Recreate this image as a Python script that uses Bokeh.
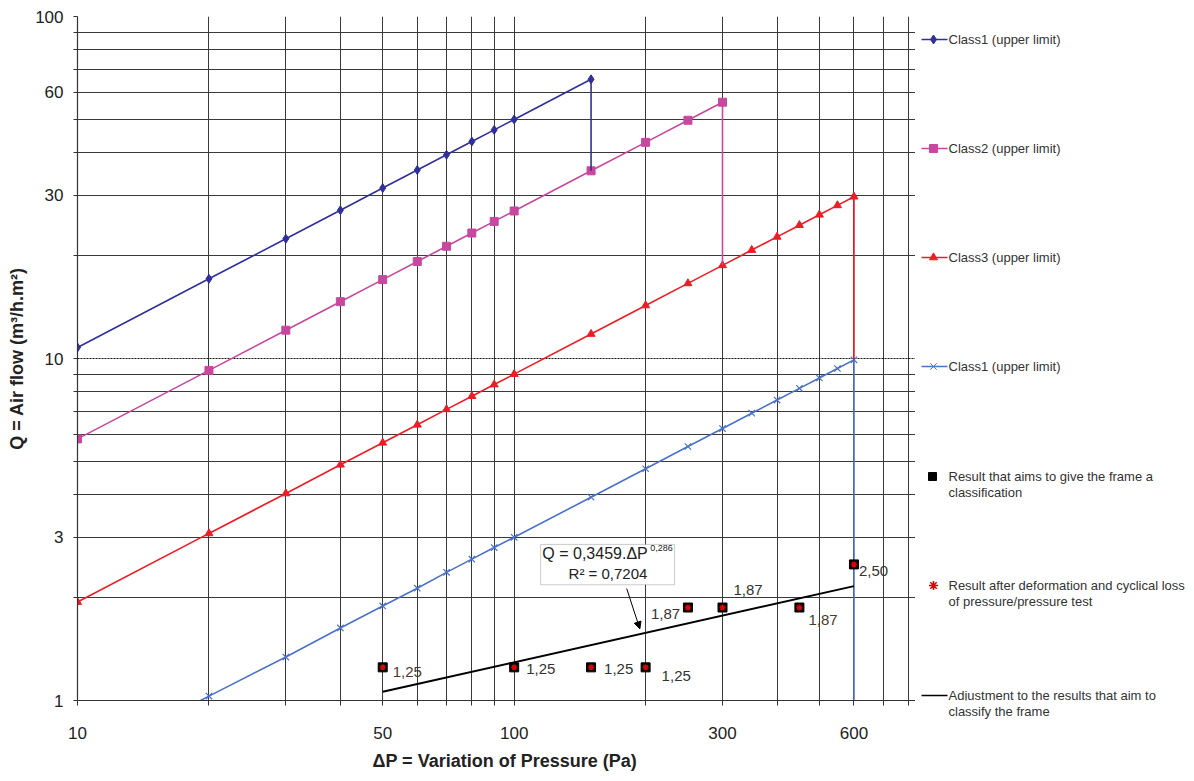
from bokeh.plotting import figure
from bokeh.models import (Range1d, FixedTicker, Grid, ColumnDataSource, Label,
                          BoxAnnotation, Arrow, NormalHead, Title)
from bokeh.layouts import row
from bokeh.embed import file_html
from bokeh.resources import INLINE
from bokeh.core.properties import value

FONT = "Liberation Sans"

# ---------------- data ----------------
class1_dp = [10, 20, 30, 40, 50, 60, 70, 80, 90, 100, 150, 150]
class1_q = [10.77, 17.10, 22.40, 27.14, 31.50, 35.57, 39.42, 43.09, 46.61, 50.00, 65.52, 35.38]

class2_dp = [10, 20, 30, 40, 50, 60, 70, 80, 90, 100, 150, 200, 250, 300, 300]
class2_q = [5.82, 9.23, 12.10, 14.66, 17.01, 19.21, 21.29, 23.27, 25.17, 27.00, 35.38, 42.86, 49.73, 56.16, 18.72]

class3_dp = [10, 20, 30, 40, 50, 60, 70, 80, 90, 100, 150, 200, 250, 300, 350, 400, 450, 500, 550, 600, 600]
class3_q = [1.94, 3.08, 4.03, 4.89, 5.67, 6.40, 7.10, 7.76, 8.39, 9.00, 11.79, 14.29, 16.58, 18.72, 20.75,
            22.68, 24.53, 26.32, 28.04, 29.72, 9.91]

class4_dp = [10, 20, 30, 40, 50, 60, 70, 80, 90, 100, 150, 200, 250, 300, 350, 400, 450, 500, 550, 600, 600]
class4_q = [0.65, 1.03, 1.34, 1.63, 1.89, 2.13, 2.37, 2.59, 2.80, 3.00, 3.93, 4.76, 5.53, 6.24, 6.92,
            7.56, 8.18, 8.77, 9.35, 9.91, 1.00]

result_dp = [50, 100, 150, 200, 250, 300, 450, 600]
result_q = [1.25, 1.25, 1.25, 1.25, 1.87, 1.87, 1.87, 2.50]
result_labels = ["1,25", "1,25", "1,25", "1,25", "1,87", "1,87", "1,87", "2,50"]

fit_dp = [50, 600]
fit_q = [1.06, 2.16]

x_ticks = [10, 20, 30, 40, 50, 60, 70, 80, 90, 100, 200, 300, 400, 500, 600, 700, 800]
x_tick_labels = {10: "10", 50: "50", 100: "100", 300: "300", 600: "600"}
y_ticks = [1, 2, 3, 4, 5, 6, 7, 8, 9, 10, 20, 30, 40, 50, 60, 70, 80, 90, 100]
y_tick_labels = {1: "1", 3: "3", 10: "10", 30: "30", 60: "60", 100: "100"}
y_major_dotted = [10, 100]

legend_names = ["Class1 (upper limit)", "Class2 (upper limit)", "Class3 (upper limit)",
                "Class1 (upper limit)"]
legend_results = [["Result that aims to give the frame a", "classification"],
                  ["Result after deformation and cyclical loss", "of pressure/pressure test"],
                  ["Adjustment to the results that aim to", "classify the frame"]]

eq_text = "Q = 0,3459.ΔP"
eq_exp = "0,286"
r2_text = "R² = 0,7204"

# ---------------- styles ----------------
NAVY = "#30309a"
MAGENTA = "#c8489f"
RED = "#ee1c25"
BLUE = "#4a72c8"
GRID = "#3a3a3a"
TXT = "#222222"

# ---------------- main plot ----------------
p = figure(width=915, height=780, x_axis_type="log", y_axis_type="log",
           x_range=Range1d(10, 830), y_range=Range1d(1, 100),
           output_backend="svg", toolbar_location=None,
           min_border_left=77, min_border_right=0, min_border_top=16, min_border_bottom=80)
p.outline_line_color = None

# grids
p.xgrid.ticker = FixedTicker(ticks=[t for t in x_ticks if t != 10])
p.xgrid.grid_line_color = GRID
p.xgrid.grid_line_width = 1
p.ygrid.ticker = FixedTicker(ticks=[t for t in y_ticks if t not in y_major_dotted and t != 1])
p.ygrid.grid_line_color = GRID
p.ygrid.grid_line_width = 1
p.add_layout(Grid(dimension=1, ticker=FixedTicker(ticks=y_major_dotted),
                  grid_line_color="#111111", grid_line_dash="2 1", grid_line_width=1.2))

# axes
xa = p.xaxis[0]
xa.ticker = FixedTicker(ticks=x_ticks)
xa.major_label_overrides = {t: x_tick_labels.get(t, "") for t in x_ticks}
ya = p.yaxis[0]
ya.ticker = FixedTicker(ticks=y_ticks)
ya.major_label_overrides = {t: y_tick_labels.get(t, "") for t in y_ticks}
for ax in (xa, ya):
    ax.axis_line_color = "#333333"
    ax.axis_line_width = 1.2
    ax.major_tick_line_color = "#333333"
    ax.major_tick_in = 0
    ax.minor_tick_line_color = None
    ax.major_label_text_font = FONT
    ax.major_label_text_font_size = "17px"
    ax.major_label_text_color = TXT
xa.major_tick_out = 5
xa.major_label_standoff = 21
ya.major_tick_out = 4
ya.major_label_standoff = 10
ya.axis_label = "Q = Air flow (m³/h.m²)"
ya.axis_label_text_font = FONT
ya.axis_label_text_font_size = "18px"
ya.axis_label_text_font_style = "bold"
ya.axis_label_text_color = TXT
ya.axis_label_standoff = 5

p.add_layout(Title(text="ΔP = Variation of Pressure (Pa)", align="left", offset=295,
                   text_font=FONT, text_font_size="18px", text_font_style="bold",
                   text_color=TXT, standoff=15), "below")

# series
p.line(class4_dp, class4_q, line_color=BLUE, line_width=1.6)
p.scatter(class4_dp[:-1], class4_q[:-1], marker="x", size=9, line_color=BLUE, line_width=1.2)
p.line(class3_dp, class3_q, line_color=RED, line_width=1.6)
p.scatter(class3_dp[:-1], class3_q[:-1], marker="triangle", size=8, fill_color=RED, line_color=RED)
p.line(class2_dp, class2_q, line_color=MAGENTA, line_width=1.6)
p.scatter(class2_dp[:-1], class2_q[:-1], marker="square", size=8, fill_color=MAGENTA, line_color=MAGENTA)
p.line(class1_dp, class1_q, line_color=NAVY, line_width=1.6)
p.scatter(class1_dp[:-1], class1_q[:-1], marker="diamond", size=9, fill_color=NAVY, line_color=NAVY)

# fit line and results
p.line(fit_dp, fit_q, line_color="black", line_width=2)
p.scatter(result_dp, result_q, marker="square", size=9, fill_color="black", line_color="black")
p.scatter(result_dp, result_q, marker="asterisk", size=6, line_color="#e00000", line_width=1.5)

lab_src = ColumnDataSource(dict(
    x=result_dp, y=result_q, t=result_labels,
    dx=[10, 12, 13, 16, -37, 11, 9, 5],
    dy=[5, 2, 2, 9, 6, -18, 12, 7],
    c=["#4a3b2c", "#333333", "#333333", "#333333", "#333333", "#333333", "#4a3b2c", "#333333"]))
p.text(x="x", y="y", text="t", x_offset="dx", y_offset="dy", text_color="c", source=lab_src,
       text_font=value(FONT), text_font_size="15px", text_baseline="middle", text_align="left")

# equation box + arrow
p.add_layout(BoxAnnotation(left=115, right=233, bottom=2.18, top=2.86, fill_color="white",
                           fill_alpha=1, line_color="#555555", line_width=1))
p.add_layout(Label(x=116, y=2.69, text=eq_text, text_font=FONT, text_font_size="16px",
                   text_baseline="middle", text_align="left", text_color=TXT))
p.add_layout(Label(x=205, y=2.80, text=eq_exp, text_font=FONT, text_font_size="9px",
                   text_baseline="middle", text_align="left", text_color=TXT))
p.add_layout(Label(x=164, y=2.35, text=r2_text, text_font=FONT, text_font_size="15px",
                   text_baseline="middle", text_align="center", text_color=TXT))
p.add_layout(Arrow(end=NormalHead(size=7, fill_color="black", line_color="black"),
                   x_start=181, y_start=2.125, x_end=194, y_end=1.62,
                   line_color="black", line_width=1))

# ---------------- legend panel (frame aligned with the main frame, y in page px) ----------------
lg = figure(width=271, height=780, x_range=Range1d(0, 271), y_range=Range1d(700, 16),
            x_axis_location=None, y_axis_location=None, output_backend="svg",
            toolbar_location=None, min_border_left=0, min_border_right=0,
            min_border_top=16, min_border_bottom=80)
lg.outline_line_color = None
lg.grid.visible = False

row_y = [39, 148, 257, 366]
lg.segment(x0=[6] * 4, y0=row_y, x1=[32] * 4, y1=row_y, line_color=[NAVY, MAGENTA, RED, BLUE],
           line_width=1.6)
lg.scatter(x=[18] * 4, y=row_y, marker=["diamond", "square", "triangle", "x"], size=[9, 8, 8, 9],
           fill_color=[NAVY, MAGENTA, RED, BLUE], line_color=[NAVY, MAGENTA, RED, BLUE])
lg.scatter(x=[17], y=[476], marker="square", size=8, fill_color="black", line_color="black")
lg.scatter(x=[18], y=[585], marker="asterisk", size=9, line_color="#e00000", line_width=1.5)
lg.segment(x0=[6], y0=[695], x1=[32], y1=[695], line_color="black", line_width=1.6)

texts = []
ty = []
for t, y0 in zip(legend_names, row_y):
    texts.append(t)
    ty.append(y0)
for (l1, l2), y0 in zip(legend_results[:2], [476, 585]):
    texts += [l1, l2]
    ty += [y0, y0 + 16]
texts.append(legend_results[2][0])
ty.append(695)
for t, y0 in zip(texts, ty):
    lg.add_layout(Label(x=33, y=y0, text=t, text_font=FONT, text_font_size="13px",
                        text_color="#333333", text_baseline="middle", text_align="left"))
# last legend line falls just below the aligned frame: put it in the panel below it
lg.add_layout(Title(text=legend_results[2][1], align="left", offset=33, text_font=FONT,
                    text_font_size="13px", text_font_style="normal", text_color="#333333",
                    standoff=3), "below")

layout = row(p, lg)
open("out.html", "w").write(file_html(layout, INLINE))
